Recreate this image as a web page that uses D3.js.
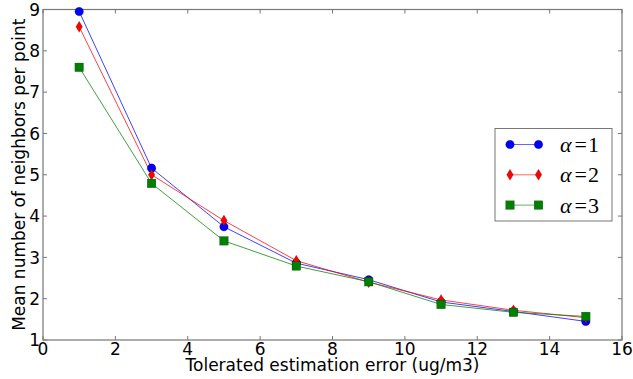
<!DOCTYPE html>
<html><head><meta charset="utf-8">
<script src="https://cdn.jsdelivr.net/npm/d3@7/dist/d3.min.js"></script>
<style>body{margin:0;background:#fff}svg{display:block}</style>
</head><body>
<script>
const xValues = [1, 3, 5, 7, 9, 11, 13, 15];
const alpha1 = [8.95, 5.16, 3.74, 2.86, 2.46, 1.92, 1.69, 1.45];
const alpha2 = [8.58, 5.00, 3.89, 2.92, 2.40, 1.97, 1.72, 1.54];
const alpha3 = [7.60, 4.79, 3.40, 2.79, 2.41, 1.86, 1.67, 1.57];
const seriesNames = ["1", "2", "3"];
const xTicks = [0, 2, 4, 6, 8, 10, 12, 14, 16];
const yTicks = [1, 2, 3, 4, 5, 6, 7, 8, 9];

const W = 633, H = 379;
const m = {left: 43, right: 11, top: 9.5, bottom: 39};
const svg = d3.select("body").append("svg").attr("width", W).attr("height", H);
const x = d3.scaleLinear().domain([0, 16]).range([m.left, W - m.right]);
const y = d3.scaleLinear().domain([1, 9]).range([H - m.bottom, m.top]);
const font = "DejaVu Sans, sans-serif";
const axisColor = "#777";

// frame
svg.append("rect").attr("x", x(0)).attr("y", y(9)).attr("width", x(16) - x(0)).attr("height", y(1) - y(9))
  .attr("fill", "none").attr("stroke", axisColor).attr("stroke-width", 1.2);

// ticks (inward, all sides)
const tl = 4;
const tg = svg.append("g").attr("stroke", axisColor).attr("stroke-width", 1);
xTicks.forEach(t => {
  tg.append("line").attr("x1", x(t)).attr("x2", x(t)).attr("y1", y(1)).attr("y2", y(1) - tl);
  tg.append("line").attr("x1", x(t)).attr("x2", x(t)).attr("y1", y(9)).attr("y2", y(9) + tl);
});
yTicks.forEach(t => {
  tg.append("line").attr("x1", x(0)).attr("x2", x(0) + tl).attr("y1", y(t)).attr("y2", y(t));
  tg.append("line").attr("x1", x(16)).attr("x2", x(16) - tl).attr("y1", y(t)).attr("y2", y(t));
});
// tick labels
svg.append("g").selectAll("text").data(xTicks).join("text")
  .attr("x", d => x(d)).attr("y", y(1) + 14.5).attr("text-anchor", "middle")
  .attr("font-family", font).attr("font-size", 17).attr("fill", "#000").text(d => d);
svg.append("g").selectAll("text").data(yTicks).join("text")
  .attr("x", x(0) - 3).attr("y", d => y(d) + 6.2).attr("text-anchor", "end")
  .attr("font-family", font).attr("font-size", 17).attr("fill", "#000").text(d => d);

// axis labels
svg.append("text").attr("x", (x(0) + x(16)) / 2).attr("y", 371).attr("text-anchor", "middle")
  .attr("font-family", font).attr("font-size", 17).text("Tolerated estimation error (ug/m3)");
svg.append("text").attr("transform", `translate(24.5,${(y(1) + y(9)) / 2}) rotate(-90)`).attr("text-anchor", "middle")
  .attr("font-family", font).attr("font-size", 17).text("Mean number of neighbors per point");

const series = [
  {name: seriesNames[0], values: alpha1, color: "#0000ff", marker: "circle"},
  {name: seriesNames[1], values: alpha2, color: "#ff0000", marker: "thin_diamond"},
  {name: seriesNames[2], values: alpha3, color: "#008000", marker: "square"}
];

function drawMarker(g, type, cx, cy, color) {
  if (type === "circle") {
    g.append("circle").attr("cx", cx).attr("cy", cy).attr("r", 4.3).attr("fill", color)
      .attr("stroke", "#000").attr("stroke-width", 0.4).attr("stroke-opacity", 0.5);
  } else if (type === "square") {
    g.append("rect").attr("x", cx - 4.3).attr("y", cy - 4.3).attr("width", 8.6).attr("height", 8.6).attr("fill", color)
      .attr("stroke", "#000").attr("stroke-width", 0.4).attr("stroke-opacity", 0.5);
  } else {
    g.append("path").attr("d", `M${cx},${cy - 5.5}L${cx + 3.3},${cy}L${cx},${cy + 5.5}L${cx - 3.3},${cy}Z`).attr("fill", color)
      .attr("stroke", "#000").attr("stroke-width", 0.4).attr("stroke-opacity", 0.5);
  }
}

const line = d3.line().x(d => x(d[0])).y(d => y(d[1]));
series.forEach(s => {
  const pts = xValues.map((xv, i) => [xv, s.values[i]]);
  svg.append("path").attr("d", line(pts)).attr("fill", "none").attr("stroke", s.color)
    .attr("stroke-width", 1).attr("stroke-opacity", 0.75);
});
series.forEach(s => {
  const g = svg.append("g");
  xValues.forEach((xv, i) => drawMarker(g, s.marker, x(xv), y(s.values[i]), s.color));
});

// legend
const lg = svg.append("g");
lg.append("rect").attr("x", 495).attr("y", 128.5).attr("width", 117).attr("height", 92.5)
  .attr("fill", "#fff").attr("stroke", axisColor).attr("stroke-width", 1);
series.forEach((s, i) => {
  const cy = 144.5 + i * 30.3;
  lg.append("line").attr("x1", 510).attr("x2", 538.5).attr("y1", cy).attr("y2", cy)
    .attr("stroke", s.color).attr("stroke-width", 1).attr("stroke-opacity", 0.6);
  drawMarker(lg, s.marker, 510, cy, s.color);
  drawMarker(lg, s.marker, 538.5, cy, s.color);
  const t = lg.append("text").attr("x", 560).attr("y", cy + 7.5).attr("font-family", "Liberation Serif, serif").attr("font-size", 22);
  t.append("tspan").attr("font-style", "italic").text("α");
  t.append("tspan").attr("dx", 3).text("=");
  t.append("tspan").attr("dx", 1).text(s.name);
});
</script>
</body></html>
